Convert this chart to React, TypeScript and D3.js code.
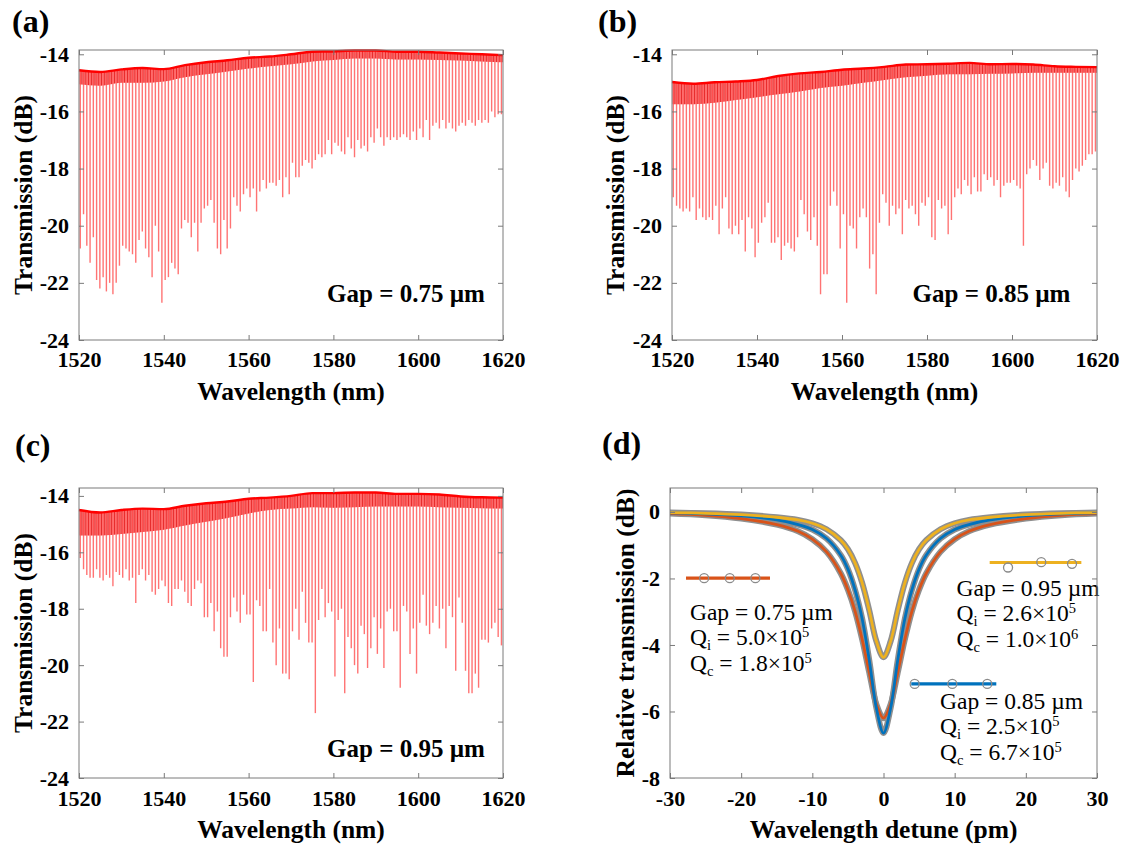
import React, { useEffect, useRef } from 'react';
import * as d3 from 'd3';

const W = 1128;
const H = 848;
const serif = "'Liberation Serif', 'Times New Roman', Times, serif";
const axisGrey = '#7a7a7a';

// ---- (a)-(c): transmission combs ----
const firstRes = 1520.3; // first resonance at the left edge, nm
const fsr = 0.77; // resonance spacing, nm

const wlTicks = [1520, 1540, 1560, 1580, 1600, 1620];
const dbTicks = [-24, -22, -20, -18, -16, -14];
const gapLabels = ['0.75', '0.85', '0.95'];

// upper envelope, read every 5 nm
const envWl = [1520, 1525, 1530, 1535, 1540, 1545, 1550, 1555, 1560, 1565, 1570, 1575, 1580, 1585, 1590, 1595, 1600, 1605, 1610, 1615, 1620];
const envA = [-14.56, -14.62, -14.53, -14.48, -14.52, -14.38, -14.28, -14.21, -14.12, -14.08, -14.0, -13.91, -13.9, -13.87, -13.87, -13.91, -13.91, -13.94, -13.97, -14.0, -14.03];
const envB = [-14.97, -15.03, -14.98, -14.95, -14.9, -14.76, -14.67, -14.62, -14.54, -14.5, -14.44, -14.36, -14.35, -14.33, -14.3, -14.35, -14.34, -14.36, -14.42, -14.44, -14.45];
const envC = [-14.5, -14.59, -14.5, -14.45, -14.47, -14.35, -14.26, -14.2, -14.1, -14.06, -14.0, -13.9, -13.9, -13.88, -13.88, -13.93, -13.93, -13.95, -14.02, -14.05, -14.06];

// lower edge of the dense band of shallow dips under the envelope
const bandA = [-15.05, -15.1, -15.0, -15.0, -14.95, -14.8, -14.7, -14.6, -14.5, -14.42, -14.35, -14.25, -14.2, -14.15, -14.15, -14.18, -14.18, -14.2, -14.22, -14.25, -14.28];
const bandB = [-15.75, -15.75, -15.7, -15.6, -15.5, -15.4, -15.3, -15.18, -15.1, -15.0, -14.9, -14.8, -14.75, -14.7, -14.7, -14.68, -14.67, -14.65, -14.65, -14.65, -14.65];
const bandC = [-15.4, -15.4, -15.35, -15.28, -15.2, -15.05, -14.92, -14.78, -14.62, -14.5, -14.45, -14.4, -14.42, -14.4, -14.38, -14.38, -14.38, -14.4, -14.42, -14.44, -14.45];

// bottom of each resonance dip, dB
const dipsA = [
  -20.8, -19.6, -20.7, -21.3, -20.4, -21.9, -22.2, -21.8, -22.3, -22.0,
  -22.4, -22.0, -21.4, -20.7, -20.8, -20.9, -21.0, -21.3, -20.5, -20.2,
  -20.8, -21.1, -21.8, -20.0, -20.9, -22.7, -21.9, -21.8, -21.3, -21.5,
  -21.7, -20.1, -19.8, -19.9, -20.4, -19.9, -20.9, -19.9, -19.4, -19.3,
  -19.1, -19.9, -20.8, -21.0, -19.8, -20.8, -20.1, -19.0, -19.3, -19.5,
  -18.9, -18.7, -19.0, -18.7, -19.5, -18.8, -18.4, -18.7, -18.5, -18.5,
  -18.6, -18.4, -19.0, -18.3, -18.9, -17.8, -18.3, -18.3, -17.9, -17.7,
  -17.8, -18.0, -17.7, -17.5, -17.6, -17.5, -17.0, -17.5, -17.1, -17.2,
  -17.4, -17.5, -16.9, -17.3, -17.6, -17.0, -17.3, -17.2, -17.4, -16.9,
  -17.1, -16.6, -16.9, -17.2, -16.9, -17.0, -16.9, -17.0, -16.9, -16.8,
  -16.9, -17.0, -16.7, -17.0, -16.6, -16.9, -16.3, -17.0, -16.5, -16.4,
  -16.6, -16.3, -16.6, -16.4, -16.6, -16.7, -16.5, -16.4, -16.5, -16.3,
  -16.4, -16.5, -16.3, -16.4, -16.3, -16.4, -16.0, -16.2, -16.1, -16.1,
];
const dipsB = [
  -19.0, -19.3, -19.4, -19.5, -19.4, -19.5, -19.0, -19.8, -19.4, -19.7,
  -19.8, -19.7, -19.8, -19.3, -20.3, -19.4, -19.0, -20.1, -20.3, -20.0,
  -20.3, -19.8, -20.9, -19.7, -20.1, -21.1, -20.6, -19.9, -19.7, -19.2,
  -20.6, -20.6, -20.4, -21.2, -20.7, -20.6, -20.8, -20.9, -20.4, -19.1,
  -19.6, -20.2, -20.5, -19.7, -20.7, -22.4, -21.7, -21.7, -19.3, -18.8,
  -19.3, -20.8, -19.6, -22.7, -20.0, -20.1, -20.8, -19.7, -19.4, -19.7,
  -21.5, -21.0, -22.4, -19.9, -18.9, -19.2, -20.0, -19.3, -19.6, -19.4,
  -20.3, -19.1, -19.4, -19.3, -19.6, -20.0, -19.2, -19.3, -19.0, -20.4,
  -20.5, -19.1, -19.4, -19.3, -20.3, -19.8, -19.0, -18.7, -18.9, -18.4,
  -18.6, -18.9, -18.3, -18.8, -18.8, -18.2, -18.4, -18.3, -18.6, -18.4,
  -19.0, -18.6, -18.5, -18.5, -18.4, -18.6, -18.7, -20.7, -18.2, -18.0,
  -17.7, -17.9, -18.4, -18.0, -17.8, -18.6, -18.7, -18.5, -18.6, -18.3,
  -18.8, -19.0, -18.4, -18.0, -18.1, -17.9, -17.7, -17.5, -17.5, -17.4,
];
const dipsC = [
  -16.2, -16.6, -16.8, -16.9, -16.9, -16.6, -16.9, -17.0, -16.8, -16.9,
  -17.2, -16.7, -16.8, -16.9, -16.6, -17.0, -16.9, -17.8, -16.8, -16.6,
  -17.0, -16.8, -17.4, -17.5, -17.3, -17.0, -17.2, -17.8, -17.9, -17.3,
  -17.3, -17.0, -17.4, -17.8, -17.9, -17.3, -17.0, -17.1, -18.3, -18.3,
  -17.8, -18.8, -18.1, -19.4, -19.7, -19.7, -18.3, -17.6, -18.1, -18.5,
  -17.5, -18.2, -18.2, -20.6, -17.7, -17.9, -18.8, -18.8, -17.3, -19.2,
  -20.0, -18.7, -20.3, -20.3, -20.5, -18.8, -18.0, -19.1, -17.4, -18.5,
  -19.2, -19.2, -21.7, -18.4, -17.3, -18.3, -17.8, -18.1, -20.4, -18.4,
  -18.0, -21.0, -19.0, -19.4, -20.0, -20.3, -18.6, -18.9, -20.1, -19.4,
  -18.3, -19.6, -18.7, -20.1, -18.1, -18.0, -18.8, -18.8, -20.8, -17.9,
  -18.1, -19.6, -18.7, -20.3, -18.5, -17.5, -18.6, -18.9, -18.5, -17.9,
  -18.7, -18.0, -19.4, -17.9, -18.3, -20.2, -17.6, -18.5, -20.2, -21.0,
  -21.0, -20.3, -20.8, -19.1, -19.1, -19.2, -18.7, -18.5, -19.0, -19.3,
];

// ---- (d): single resonances with fits ----
const detune = [-30, -25, -20, -15, -12, -10, -8, -6, -5, -4, -3, -2, -1, 0, 1, 2, 3, 4, 5, 6, 8, 10, 12, 15, 20, 25, 30];
const fit075 = [-0.05, -0.1, -0.2, -0.38, -0.58, -0.82, -1.2, -1.85, -2.34, -2.98, -3.83, -4.83, -5.78, -6.2, -5.78, -4.83, -3.83, -2.98, -2.34, -1.85, -1.2, -0.82, -0.58, -0.38, -0.2, -0.1, -0.05];
const fit085 = [-0.03, -0.06, -0.12, -0.24, -0.38, -0.53, -0.8, -1.3, -1.72, -2.34, -3.21, -4.46, -5.9, -6.65, -5.9, -4.46, -3.21, -2.34, -1.72, -1.3, -0.8, -0.53, -0.38, -0.24, -0.12, -0.06, -0.03];
const fit095 = [-0.02, -0.04, -0.08, -0.16, -0.24, -0.34, -0.52, -0.85, -1.12, -1.53, -2.13, -2.96, -3.89, -4.37, -3.89, -2.96, -2.13, -1.53, -1.12, -0.85, -0.52, -0.34, -0.24, -0.16, -0.08, -0.04, -0.02];
const detTicks = [-30, -20, -10, 0, 10, 20, 30];
const relTicks = [-8, -6, -4, -2, 0];
const qi = ['5.0', '2.5', '2.6'];
const qiExp = ['5', '5', '5'];
const qc = ['1.8', '6.7', '1.0'];
const qcExp = ['5', '5', '6'];

const fmt = (d: any) => String(d);

function frame(g: any, x: any, y: any, xTicks: number[], yTicks: number[], padX: number) {
  const [l, r] = x.range();
  const [b, t] = y.range();
  const style = (sel: any) => {
    sel.select('.domain').remove();
    sel.selectAll('.tick line').attr('stroke', axisGrey);
    sel.selectAll('.tick text')
      .attr('fill', '#000')
      .style('font-family', serif)
      .style('font-size', '22px')
      .style('font-weight', 'bold');
  };
  g.append('g').attr('transform', `translate(0,${b})`)
    .call(d3.axisBottom(x).tickValues(xTicks).tickSize(-5).tickPadding(padX).tickFormat(fmt)).call(style);
  g.append('g').attr('transform', `translate(0,${t})`)
    .call(d3.axisTop(x).tickValues(xTicks).tickSize(-5).tickFormat(() => '')).call(style);
  g.append('g').attr('transform', `translate(${l},0)`)
    .call(d3.axisLeft(y).tickValues(yTicks).tickSize(-5).tickPadding(10).tickFormat(fmt)).call(style);
  g.append('g').attr('transform', `translate(${r},0)`)
    .call(d3.axisRight(y).tickValues(yTicks).tickSize(-5).tickFormat(() => '')).call(style);
  g.append('rect')
    .attr('x', l).attr('y', t).attr('width', r - l).attr('height', b - t)
    .attr('fill', 'none').attr('stroke', axisGrey);
}

function titles(g: any, p: any, xTitle: string, yTitle: string) {
  const boldText = (sel: any, size: number) =>
    sel.attr('fill', '#000').style('font-family', serif).style('font-weight', 'bold').style('font-size', size + 'px');
  g.append('text').attr('x', p.tagAt[0]).attr('y', p.tagAt[1]).text(p.tag).call(boldText, 32);
  g.append('text')
    .attr('x', (p.box.l + p.box.r) / 2).attr('y', p.xTitleY)
    .attr('text-anchor', 'middle').text(xTitle).call(boldText, 25.5);
  g.append('text')
    .attr('transform', `translate(${p.yTitleX},${(p.box.t + p.box.b) / 2}) rotate(-90)`)
    .attr('text-anchor', 'middle').attr('dy', '0.35em').text(yTitle).call(boldText, 25.5);
}

const combPanels = [
  { id: 'a', tag: '(a)', tagAt: [12, 32], box: { l: 79, r: 503, t: 50, b: 340 }, yTop: -13.85,
    env: envA, band: bandA, dips: dipsA, gap: gapLabels[0], gapAt: [1578.5, -22.67], yTitleX: 23, padX: 11, xTitleY: 400 },
  { id: 'b', tag: '(b)', tagAt: [598, 32], box: { l: 672, r: 1097, t: 50, b: 340 }, yTop: -13.85,
    env: envB, band: bandB, dips: dipsB, gap: gapLabels[1], gapAt: [1576.6, -22.67], yTitleX: 615, padX: 11, xTitleY: 400 },
  { id: 'c', tag: '(c)', tagAt: [15, 456], box: { l: 79, r: 503, t: 488, b: 778 }, yTop: -13.72,
    env: envC, band: bandC, dips: dipsC, gap: gapLabels[2], gapAt: [1578.5, -23.26], yTitleX: 23, padX: 12, xTitleY: 838 },
];

function drawComb(svg: any, p: any) {
  const g = svg.append('g');
  const x = d3.scaleLinear().domain([1520, 1620]).range([p.box.l, p.box.r]);
  const y = d3.scaleLinear().domain([-24, p.yTop]).range([p.box.b, p.box.t]);
  const resAt = (i: number) => x(firstRes + i * fsr);

  const clipId = `below-env-${p.id}`;
  const under = d3.area<number>()
    .x((_, i) => x(envWl[i])).y0(p.box.b).y1(d => y(d)).curve(d3.curveMonotoneX);
  g.append('clipPath').attr('id', clipId).append('path').attr('d', under(p.env));

  const bandId = `band-${p.id}`;
  const band = d3.area<number>()
    .x((_, i) => x(envWl[i])).y0((_, i) => y(p.band[i])).y1(d => y(d)).curve(d3.curveMonotoneX);
  g.append('clipPath').attr('id', bandId).append('path').attr('d', band(p.env));
  g.append('path').attr('d', band(p.env)).attr('fill', '#ff0000').attr('fill-opacity', 0.3);

  // shallow family of dips between the main ones, only inside the band
  g.append('g').attr('clip-path', `url(#${bandId})`)
    .selectAll('line').data(p.dips).join('line')
    .attr('x1', (_: any, i: number) => x(firstRes + fsr / 2 + i * fsr))
    .attr('x2', (_: any, i: number) => x(firstRes + fsr / 2 + i * fsr))
    .attr('y1', p.box.t).attr('y2', p.box.b)
    .attr('stroke', '#e00000').attr('stroke-opacity', 0.75).attr('stroke-width', 1.3);

  g.append('g').attr('clip-path', `url(#${clipId})`)
    .selectAll('line').data(p.dips).join('line')
    .attr('x1', (_: any, i: number) => resAt(i))
    .attr('x2', (_: any, i: number) => resAt(i))
    .attr('y1', p.box.t)
    .attr('y2', (d: number) => y(d))
    .attr('stroke', '#ff0000').attr('stroke-opacity', 0.55).attr('stroke-width', 1.4);

  const envLine = d3.line<number>().x((_, i) => x(envWl[i])).y(d => y(d)).curve(d3.curveMonotoneX);
  g.append('path').attr('d', envLine(p.env))
    .attr('fill', 'none').attr('stroke', '#ff0000').attr('stroke-width', 2.4);

  frame(g, x, y, wlTicks, dbTicks, p.padX);

  g.append('text')
    .attr('x', x(p.gapAt[0])).attr('y', y(p.gapAt[1]))
    .attr('fill', '#000').style('font-family', serif).style('font-weight', 'bold').style('font-size', '25px')
    .text(`Gap = ${p.gap} µm`);

  titles(g, p, 'Wavelength (nm)', 'Transmission (dB)');
}

function drawFits(svg: any) {
  const p = { tag: '(d)', tagAt: [602, 454], box: { l: 670, r: 1097, t: 488, b: 778 }, yTitleX: 625, xTitleY: 838 };
  const x = d3.scaleLinear().domain([-30, 30]).range([p.box.l, p.box.r]);
  const y = d3.scaleLinear().domain([-8, 0.72]).range([p.box.b, p.box.t]);
  const g = svg.append('g');

  g.append('clipPath').attr('id', 'fit-box').append('rect')
    .attr('x', p.box.l).attr('y', p.box.t).attr('width', p.box.r - p.box.l).attr('height', p.box.b - p.box.t);

  const curve = d3.line<number>()
    .x((_, i) => x(detune[i])).y(d => y(d)).curve(d3.curveCatmullRom.alpha(0.5));
  const fits = [
    { v: fit075, c: '#D95319' },
    { v: fit085, c: '#0072BD' },
    { v: fit095, c: '#EDB120' },
  ];
  const plot = g.append('g').attr('clip-path', 'url(#fit-box)');
  // measured points (grey rings) sit under the fitted lines
  fits.forEach(f => {
    plot.append('path').attr('d', curve(f.v)).attr('fill', 'none')
      .attr('stroke', '#8f8f8f').attr('stroke-width', 6).attr('stroke-linecap', 'round');
  });
  fits.forEach(f => {
    plot.append('path').attr('d', curve(f.v)).attr('fill', 'none')
      .attr('stroke', f.c).attr('stroke-width', 2.8);
  });

  // legend samples: line with three data rings
  const legend = [
    { c: '#D95319', span: [-27.75, -15.95], at: -1.99, rings: [[-25.2, -1.99], [-21.6, -1.99], [-18.0, -1.99]] },
    { c: '#EDB120', span: [14.92, 27.8], at: -1.52, rings: [[17.5, -1.67], [22.17, -1.51], [26.49, -1.56]] },
    { c: '#0072BD', span: [3.9, 15.85], at: -5.17, rings: [[4.38, -5.17], [9.67, -5.17], [14.58, -5.17]] },
  ];
  legend.forEach(l => {
    g.append('line')
      .attr('x1', x(l.span[0])).attr('x2', x(l.span[1])).attr('y1', y(l.at)).attr('y2', y(l.at))
      .attr('stroke', l.c).attr('stroke-width', 3.2);
    g.selectAll(null).data(l.rings).join('circle')
      .attr('cx', (d: number[]) => x(d[0])).attr('cy', (d: number[]) => y(d[1])).attr('r', 4.5)
      .attr('fill', 'none').attr('stroke', '#8a8a8a').attr('stroke-width', 1.3);
  });

  // annotation blocks: gap index, anchor (pm, dB)
  const notes = [
    { k: 0, at: [-27.2, -3.24] },
    { k: 2, at: [10.26, -2.52] },
    { k: 1, at: [7.94, -5.92] },
  ];
  notes.forEach(n => {
    const x0 = x(n.at[0]);
    const y0 = y(n.at[1]);
    const t = g.append('text').attr('fill', '#000').style('font-family', serif).style('font-size', '23.5px');
    t.append('tspan').attr('x', x0).attr('y', y0).text(`Gap = ${gapLabels[n.k]} µm`);
    const q = (line: number, sub: string, mant: string, exp: string) => {
      t.append('tspan').attr('x', x0).attr('y', y0 + 25.5 * line).text('Q');
      t.append('tspan').attr('dy', 5).style('font-size', '14.5px').text(sub);
      t.append('tspan').attr('dy', -5).text(` = ${mant}×10`);
      t.append('tspan').attr('dy', -8).style('font-size', '14.5px').text(exp);
    };
    q(1, 'i', qi[n.k], qiExp[n.k]);
    q(2, 'c', qc[n.k], qcExp[n.k]);
  });

  frame(g, x, y, detTicks, relTicks, 12);
  titles(g, p, 'Wavelength detune (pm)', 'Relative transmission (dB)');
}

export default function App() {
  const ref = useRef<SVGSVGElement>(null);

  useEffect(() => {
    const svg = d3.select(ref.current);
    svg.selectAll('*').remove();
    combPanels.forEach(p => drawComb(svg, p));
    drawFits(svg);
  }, []);

  return (
    <svg
      ref={ref}
      width={W}
      height={H}
      style={{ position: 'absolute', left: 0, top: 0, background: '#fff' }}
    />
  );
}
